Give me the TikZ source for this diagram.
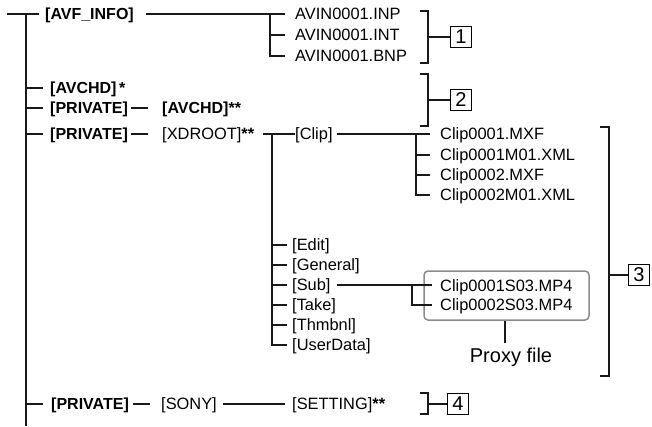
\documentclass[tikz,border=0pt]{standalone}
\usepackage{fontspec}
\setmainfont{Liberation Sans}
\begin{document}
\begin{tikzpicture}[x=1pt,y=-1pt,
  ln/.style={line width=1.1pt, black!90},
  txt/.style={font=\fontsize{16.4}{18}\selectfont, inner sep=0pt, anchor=west, text height=11.7pt, text depth=0pt},
  btxt/.style={txt, font=\fontsize{16}{18}\selectfont\bfseries},
  numbox/.style={draw, line width=1.1pt, minimum width=21pt, minimum height=21pt, inner sep=0pt, font=\fontsize{20}{20}\selectfont},
  proxy/.style={draw=black!45, rounded corners=4pt, line width=1.5pt, minimum width=165pt, minimum height=49pt, inner sep=0pt}]
\useasboundingbox (0,0) rectangle (652,426);

% trunk
\coordinate (t0) at (7,14);
\coordinate (t1) at (26,14);
\coordinate (t2) at (26,426);
\draw[ln] (t0) -- (t1) -- (t2);

% ---- AVF_INFO row
\node[btxt] (avf) at (45,14) {[AVF\_INFO]};
\node[txt] (inp) at (295,14) {AVIN0001.INP};
\node[txt] (int) at (295,35) {AVIN0001.INT};
\node[txt] (bnp) at (295,56) {AVIN0001.BNP};
\coordinate (a1) at (146,14);
\coordinate (j1) at (270,14);
\draw[ln] (t1) -- ([xshift=-6pt]avf.west);
\draw[ln] (a1) -- ([xshift=-10pt]inp.west);
\draw[ln] (j1) |- ([xshift=-10pt]bnp.west);
\draw[ln] (j1|-int.west) -- ([xshift=-10pt]int.west);

% bracket 1
\node[numbox] (n1) at (461,37) {1};
\coordinate (b1t) at (428,11);
\coordinate (b1b) at (428,63);
\draw[ln] ([xshift=-8pt]b1t) -- (b1t) -- (b1b) -- ([xshift=-8pt]b1b);
\draw[ln] (b1t|-n1.west) -- (n1.west);

% ---- AVCHD rows
\node[btxt] (avc) at (50,88) {[AVCHD]\,*};
\draw[ln] (t1|-avc.west) -- ([xshift=-7pt]avc.west);
\node[btxt] (pv1) at (50,108) {[PRIVATE]};
\node[btxt] (avc2) at (162,108) {[AVCHD]**};
\draw[ln] (t1|-pv1.west) -- ([xshift=-7pt]pv1.west);
\coordinate (d1) at (131,108);
\draw[ln] (d1) -- ([xshift=-14pt]avc2.west);

% bracket 2
\node[numbox] (n2) at (461,100) {2};
\coordinate (b2t) at (428,74);
\coordinate (b2b) at (428,126);
\draw[ln] ([xshift=-8pt]b2t) -- (b2t) -- (b2b) -- ([xshift=-8pt]b2b);
\draw[ln] (b2t|-n2.west) -- (n2.west);

% ---- XDROOT row
\node[btxt] (pv2) at (50,134) {[PRIVATE]};
\node[txt] (xd) at (162,134) {[XDROOT]\textbf{**}};
\draw[ln] (t1|-pv2.west) -- ([xshift=-7pt]pv2.west);
\coordinate (d2) at (131,134);
\draw[ln] (d2) -- ([xshift=-14pt]xd.west);
\node[txt] (clip) at (295,134) {[Clip]};
\coordinate (x1) at (263,134);
\coordinate (j2) at (272,134);
\draw[ln] (x1) -- (clip.west);

% Clip files
\node[txt] (c1) at (440,134) {Clip0001.MXF};
\node[txt] (c2) at (440,155) {Clip0001M01.XML};
\node[txt] (c3) at (440,175) {Clip0002.MXF};
\node[txt] (c4) at (440,195) {Clip0002M01.XML};
\coordinate (k1) at (337,134);
\coordinate (j3) at (416,134);
\draw[ln] (k1) -- ([xshift=-10pt]c1.west);
\draw[ln] (j3) |- ([xshift=-10pt]c4.west);
\draw[ln] (j3|-c2.west) -- ([xshift=-10pt]c2.west);
\draw[ln] (j3|-c3.west) -- ([xshift=-10pt]c3.west);

% XDROOT subfolders
\node[txt] (ed) at (292,245) {[Edit]};
\node[txt] (ge) at (292,265) {[General]};
\node[txt] (sub) at (292,285) {[Sub]};
\node[txt] (ta) at (292,305) {[Take]};
\node[txt] (th) at (292,325) {[Thmbnl]};
\node[txt] (ud) at (292,345) {[UserData]};
\draw[ln] (j2) |- ([xshift=-5pt]ud.west);
\foreach \n in {ed,ge,sub,ta,th}
  \draw[ln] (j2|-\n.west) -- ([xshift=-5pt]\n.west);

% proxy box
\node[proxy] (pbox) at (506.5,295.5) {};
\node[txt] (s1) at (440,286) {Clip0001S03.MP4};
\node[txt] (s2) at (440,305) {Clip0002S03.MP4};
\coordinate (sb) at (337,285);
\coordinate (j4) at (412,285);
\draw[ln] (sb) -- ([xshift=-8pt]s1.west|-sb);
\draw[ln] (j4) |- ([xshift=-8pt]s2.west);
\node[font=\fontsize{20}{22}\selectfont, inner sep=0pt] (pf) at (511,357) {Proxy file};
\coordinate (pl) at (505,343);
\draw[ln] (pl|-pbox.south) -- (pl);

% bracket 3
\node[numbox] (n3) at (639,275) {3};
\coordinate (b3t) at (609,127);
\coordinate (b3b) at (609,376);
\draw[ln] ([xshift=-9pt]b3t) -- (b3t) -- (b3b) -- ([xshift=-9pt]b3b);
\draw[ln] (b3t|-n3.west) -- (n3.west);

% ---- SONY row
\node[btxt] (pv3) at (51,404) {[PRIVATE]};
\node[txt] (sony) at (161,404) {[SONY]};
\node[txt] (set) at (292,404) {[SETTING]\textbf{**}};
\draw[ln] (t1|-pv3.west) -- ([xshift=-8pt]pv3.west);
\coordinate (d3) at (133,404);
\draw[ln] (d3) -- ([xshift=-11pt]sony.west);
\coordinate (s3) at (223,404);
\draw[ln] (s3) -- ([xshift=-7pt]set.west);

% bracket 4
\node[numbox] (n4) at (458,404) {4};
\coordinate (b4t) at (428,393);
\coordinate (b4b) at (428,414);
\draw[ln] ([xshift=-8pt]b4t) -- (b4t) -- (b4b) -- ([xshift=-8pt]b4b);
\draw[ln] (b4t|-n4.west) -- (n4.west);
\end{tikzpicture}
\end{document}
